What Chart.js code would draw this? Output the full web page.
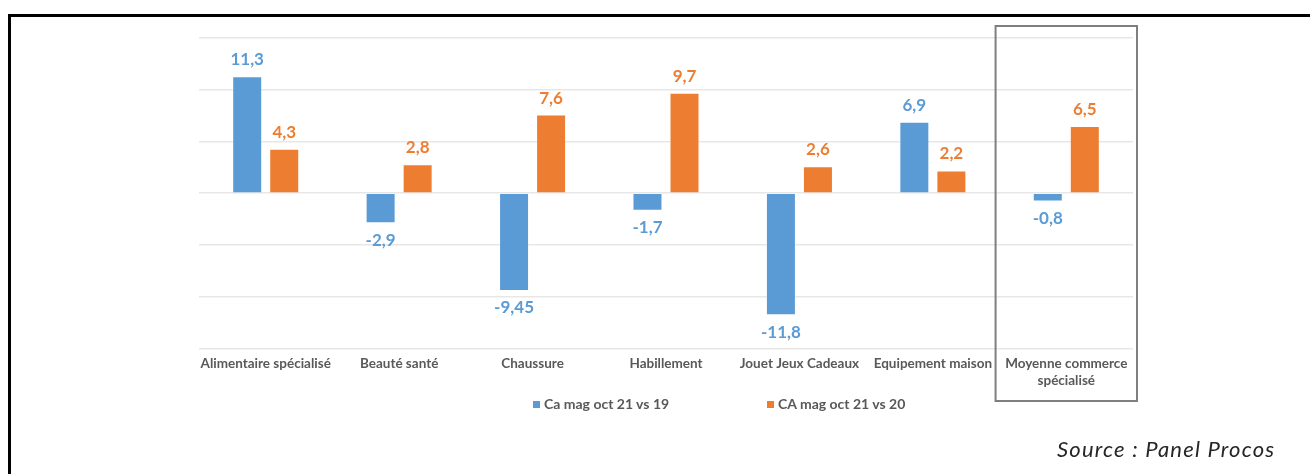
<!DOCTYPE html>
<html>
<head>
<meta charset="utf-8">
<script src="https://cdn.jsdelivr.net/npm/chart.js@4.4.1/dist/chart.umd.min.js"></script>
<style>
  html, body { margin: 0; padding: 0; background: #ffffff; }
  #wrap { position: relative; width: 1310px; height: 474px; overflow: hidden; }
  #frame { position: absolute; left: 8px; top: 14px; width: 1400px; height: 500px;
           border-top: 3px solid #000; border-left: 3px solid #000; box-sizing: border-box; }
  canvas { position: absolute; left: 0; top: 0; }
  #legend { position: absolute; left: 0; top: 0; width: 1310px; height: 474px; pointer-events: none; }
  .lg { position: absolute; top: 395px; font: bold 14px Lato, sans-serif; color: #595959; white-space: nowrap; line-height: 18px; }
  .lg i { display: inline-block; width: 7px; height: 7px; margin-right: 4px; vertical-align: 1px; }
  #source { position: absolute; left: 1057px; top: 435px; font: italic 22px Lato, sans-serif; letter-spacing: 1.2px; color: #262626; white-space: nowrap; }
</style>
</head>
<body>
<div id="wrap">
  <div id="frame"></div>
  <canvas id="c" width="1310" height="474"></canvas>
  <div id="legend"></div>
  <div id="source">Source : Panel Procos</div>
</div>
<script>
const categories = [
  "Alimentaire spécialisé",
  "Beauté santé",
  "Chaussure",
  "Habillement",
  "Jouet Jeux Cadeaux",
  "Equipement maison",
  ["Moyenne commerce", "spécialisé"]
];
const seriesNames = ["Ca mag oct 21 vs 19", "CA mag oct 21 vs 20"];
const seriesColors = ["#5B9BD5", "#ED7D31"];
const valuesVs19 = [11.3, -2.9, -9.45, -1.7, -11.8, 6.9, -0.8];
const valuesVs20 = [4.3, 2.8, 7.6, 9.7, 2.6, 2.2, 6.5];
const yMin = -15, yMax = 15, yStep = 5;

const labelPlugin = {
  id: 'valueLabels',
  afterDatasetsDraw(chart) {
    const ctx = chart.ctx;
    ctx.save();
    ctx.font = 'bold 17px Lato, sans-serif';
    ctx.textAlign = 'center';
    ctx.textBaseline = 'alphabetic';
    chart.data.datasets.forEach((ds, di) => {
      const meta = chart.getDatasetMeta(di);
      meta.data.forEach((bar, i) => {
        const v = ds.data[i];
        const txt = String(v).replace('.', ',');
        ctx.fillStyle = ds.backgroundColor;
        if (v >= 0) ctx.fillText(txt, bar.x, bar.y - 11);
        else ctx.fillText(txt, bar.x, bar.y + 22.5);
      });
    });
    ctx.restore();
  }
};

const boxPlugin = {
  id: 'highlightBox',
  afterDraw(chart) {
    const x = chart.scales.x;
    const n = categories.length;
    const cx = x.getPixelForValue(n - 1);
    const half = (x.getPixelForValue(1) - x.getPixelForValue(0)) / 2;
    const ctx = chart.ctx;
    ctx.save();
    ctx.strokeStyle = '#7f7f7f';
    ctx.lineWidth = 2;
    ctx.strokeRect(cx - half - 4, 26, half * 2 + 8, 375);
    ctx.restore();
  }
};

const xAxisHeight = 60;
new Chart(document.getElementById('c'), {
  type: 'bar',
  data: {
    labels: categories,
    datasets: [
      { label: seriesNames[0], data: valuesVs19, backgroundColor: seriesColors[0],
        borderColor: 'rgba(255,255,255,0.25)', borderWidth: 1,
        categoryPercentage: 0.555, barPercentage: 0.81 },
      { label: seriesNames[1], data: valuesVs20, backgroundColor: seriesColors[1],
        borderColor: 'rgba(255,255,255,0.25)', borderWidth: 1,
        categoryPercentage: 0.555, barPercentage: 0.81 }
    ]
  },
  options: {
    responsive: false,
    animation: false,
    layout: { padding: { left: 199, right: 177, top: 38, bottom: 474 - 348.4 - xAxisHeight } },
    plugins: { legend: { display: false }, tooltip: { enabled: false } },
    scales: {
      x: {
        grid: { display: false, drawTicks: false },
        border: { display: false },
        ticks: { color: '#595959', font: { family: 'Lato, sans-serif', size: 13.5, weight: 'bold', lineHeight: 1.3 },
                 padding: 6, maxRotation: 0, autoSkip: false },
        afterFit: s => { s.height = xAxisHeight; }
      },
      y: {
        min: yMin, max: yMax,
        ticks: { display: false, stepSize: yStep },
        grid: { color: '#e7e7e7', lineWidth: 1.5, drawTicks: false },
        border: { display: false },
        afterFit: s => { s.width = 0; }
      }
    }
  },
  plugins: [labelPlugin, boxPlugin]
});

// legend built from the series arrays
const legend = document.getElementById('legend');
const legendX = [533, 767];
seriesNames.forEach((name, i) => {
  const d = document.createElement('div');
  d.className = 'lg';
  d.style.left = legendX[i] + 'px';
  d.innerHTML = '<i style="background:' + seriesColors[i] + '"></i>' + name;
  legend.appendChild(d);
});
</script>
</body>
</html>
